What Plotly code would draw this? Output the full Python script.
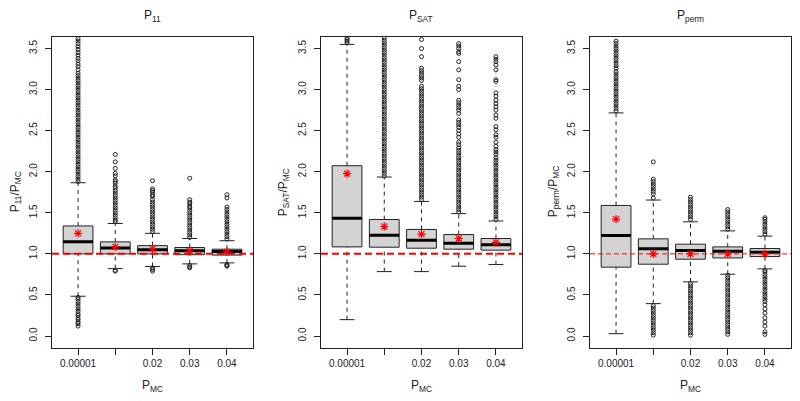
import plotly.graph_objects as go

# ---------------- data ----------------
groups = [1, 2, 3, 4, 5]
tick_labels = ["0.00001", "", "0.02", "0.03", "0.04"]
y_tick_vals = [0.0, 0.5, 1.0, 1.5, 2.0, 2.5, 3.0, 3.5]
y_tick_text = ["0.0", "0.5", "1.0", "1.5", "2.0", "2.5", "3.0", "3.5"]
panel_titles = ["P<sub>11</sub>", "P<sub>SAT</sub>", "P<sub>perm</sub>"]
y_titles = ["P<sub>11</sub>/P<sub>MC</sub>", "P<sub>SAT</sub>/P<sub>MC</sub>", "P<sub>perm</sub>/P<sub>MC</sub>"]
x_title = "P<sub>MC</sub>"
ref_value = 1.0

# P11
p11_lo = [0.484, 0.82, 0.845, 0.878, 0.89]
p11_q1 = [1.00, 1.00, 1.00, 0.99, 0.985]
p11_med = [1.146, 1.07, 1.05, 1.037, 1.028]
p11_q3 = [1.34, 1.146, 1.10, 1.077, 1.057]
p11_hi = [1.866, 1.37, 1.25, 1.187, 1.16]
p11_mean = [1.25, 1.085, 1.06, 1.035, 1.025]
p11_out = [
    [0.12, 0.15, 0.17, 0.20, 0.22, 0.25, 0.27, 0.30, 0.33, 0.36, 0.39, 0.42, 0.45, 0.47,
     1.88, 1.91, 1.94, 1.97, 2.00, 2.03, 2.06, 2.09, 2.12, 2.15, 2.18, 2.21, 2.24, 2.27,
     2.30, 2.33, 2.36, 2.39, 2.42, 2.45, 2.48, 2.51, 2.54, 2.57, 2.60, 2.63, 2.66, 2.69,
     2.72, 2.75, 2.78, 2.81, 2.84, 2.87, 2.90, 2.93, 2.96, 2.99, 3.02, 3.05, 3.08, 3.11,
     3.14, 3.17, 3.20, 3.24, 3.28, 3.31, 3.35, 3.38, 3.42, 3.45, 3.49, 3.52, 3.56, 3.59, 3.62],
    [0.80, 0.79,
     1.39, 1.41, 1.44, 1.47, 1.50, 1.53, 1.56, 1.59, 1.62, 1.65, 1.68, 1.71, 1.74, 1.77,
     1.80, 1.82, 1.86, 1.88, 1.90, 1.95, 1.98, 2.04, 2.12, 2.21],
    [0.83, 0.81, 0.79,
     1.27, 1.30, 1.33, 1.36, 1.39, 1.42, 1.45, 1.48, 1.51, 1.54, 1.57, 1.60, 1.63, 1.66,
     1.70, 1.72, 1.75, 1.77, 1.79, 1.89],
    [0.86, 0.84, 0.83,
     1.20, 1.23, 1.26, 1.29, 1.32, 1.35, 1.38, 1.41, 1.44, 1.47, 1.50, 1.53, 1.56, 1.58,
     1.61, 1.63, 1.66, 1.92],
    [0.87, 0.86, 0.85,
     1.18, 1.21, 1.24, 1.27, 1.30, 1.33, 1.36, 1.39, 1.42, 1.45, 1.48, 1.51, 1.54, 1.57,
     1.68, 1.72],
]

# PSAT
psat_lo = [0.199, 0.784, 0.784, 0.85, 0.87]
psat_q1 = [1.085, 1.081, 1.069, 1.057, 1.045]
psat_med = [1.435, 1.228, 1.167, 1.13, 1.11]
psat_q3 = [2.073, 1.418, 1.297, 1.235, 1.187]
psat_hi = [3.55, 1.935, 1.638, 1.49, 1.40]
psat_mean = [1.976, 1.333, 1.24, 1.187, 1.14]
psat_out = [
    [3.57, 3.59, 3.61, 3.63],
    [1.95, 1.98, 2.01, 2.04, 2.07, 2.10, 2.13, 2.16, 2.19, 2.22, 2.25, 2.28, 2.31, 2.34,
     2.37, 2.40, 2.43, 2.46, 2.49, 2.52, 2.55, 2.58, 2.61, 2.64, 2.67, 2.70, 2.73, 2.76,
     2.79, 2.82, 2.85, 2.88, 2.91, 2.94, 2.97, 3.00, 3.03, 3.06, 3.09, 3.12, 3.15, 3.18,
     3.21, 3.24, 3.27, 3.30, 3.33, 3.36, 3.39, 3.42, 3.45, 3.48, 3.51, 3.54, 3.57, 3.60, 3.63],
    [1.66, 1.69, 1.72, 1.75, 1.78, 1.81, 1.84, 1.87, 1.90, 1.93, 1.96, 1.99, 2.02, 2.05,
     2.08, 2.11, 2.14, 2.17, 2.20, 2.23, 2.26, 2.29, 2.32, 2.35, 2.38, 2.41, 2.44, 2.47,
     2.50, 2.53, 2.56, 2.59, 2.62, 2.65, 2.68, 2.71, 2.74, 2.77, 2.80, 2.83, 2.86, 2.89,
     2.92, 2.95, 2.98, 3.01, 3.04, 3.11, 3.14, 3.17, 3.20, 3.23, 3.26, 3.40, 3.50, 3.61],
    [1.51, 1.54, 1.57, 1.60, 1.63, 1.66, 1.69, 1.72, 1.75, 1.78, 1.81, 1.84, 1.87, 1.90,
     1.93, 1.96, 1.99, 2.02, 2.05, 2.08, 2.11, 2.14, 2.17, 2.20, 2.23, 2.26, 2.29, 2.33,
     2.36, 2.42, 2.46, 2.50, 2.54, 2.57, 2.60, 2.63, 2.71, 2.75, 2.78, 2.81, 2.84, 2.87,
     3.00, 3.04, 3.12, 3.24, 3.34, 3.44, 3.46, 3.50, 3.53, 3.56],
    [1.42, 1.45, 1.48, 1.51, 1.54, 1.57, 1.60, 1.63, 1.66, 1.69, 1.72, 1.75, 1.78, 1.81,
     1.84, 1.87, 1.90, 1.93, 1.96, 1.99, 2.02, 2.05, 2.08, 2.11, 2.14, 2.17, 2.21, 2.24,
     2.27, 2.31, 2.36, 2.42, 2.45, 2.51, 2.55, 2.65, 2.69, 2.75, 2.79, 2.83, 2.87, 2.92,
     2.96, 3.10, 3.12, 3.24, 3.30, 3.34, 3.37, 3.40],
]

# Pperm
pperm_lo = [0.028, 0.394, 0.659, 0.752, 0.817]
pperm_q1 = [0.838, 0.874, 0.935, 0.95, 0.967]
pperm_med = [1.223, 1.061, 1.04, 1.033, 1.02]
pperm_q3 = [1.589, 1.183, 1.118, 1.085, 1.065]
pperm_hi = [2.716, 1.655, 1.39, 1.28, 1.216]
pperm_mean = [1.423, 1.0, 1.0, 1.0, 1.0]
pperm_out = [
    [2.74, 2.77, 2.80, 2.83, 2.86, 2.89, 2.92, 2.95, 2.98, 3.01, 3.04, 3.07, 3.10, 3.13,
     3.16, 3.19, 3.22, 3.26, 3.29, 3.32, 3.35, 3.38, 3.41, 3.44, 3.47, 3.50, 3.53, 3.56, 3.59],
    [0.01, 0.04, 0.07, 0.10, 0.13, 0.16, 0.19, 0.22, 0.25, 0.28, 0.31, 0.34, 0.37,
     1.68, 1.73, 1.76, 1.79, 1.82, 1.85, 1.88, 1.91, 2.12],
    [0.01, 0.04, 0.07, 0.10, 0.13, 0.16, 0.19, 0.22, 0.25, 0.28, 0.31, 0.34, 0.37, 0.40,
     0.43, 0.46, 0.49, 0.52, 0.55, 0.58, 0.61, 0.64,
     1.42, 1.45, 1.48, 1.51, 1.54, 1.57, 1.60, 1.63, 1.66, 1.69],
    [0.02, 0.05, 0.08, 0.11, 0.14, 0.17, 0.20, 0.23, 0.26, 0.29, 0.32, 0.35, 0.38, 0.41,
     0.44, 0.47, 0.50, 0.53, 0.56, 0.59, 0.62, 0.65, 0.68, 0.71, 0.74,
     1.30, 1.33, 1.36, 1.39, 1.42, 1.45, 1.48, 1.51, 1.54],
    [0.02, 0.05, 0.12, 0.17, 0.22, 0.28, 0.33, 0.38, 0.42, 0.45, 0.48, 0.51, 0.54, 0.57,
     0.60, 0.63, 0.66, 0.69, 0.72, 0.75, 0.78, 0.80,
     1.24, 1.27, 1.30, 1.33, 1.36, 1.39, 1.42, 1.44],
]

# ---------------- styling ----------------
FONT = "Liberation Sans, Arial, Helvetica, sans-serif"
INK = "#222222"
BOX_FILL = "#D3D3D3"
BOX_HALF = 0.4
CAP_HALF = 0.2
OFF = 8  # page body margin of the html page
W, H = 800 - OFF, 401 - OFF


def px_x(px):
    return (px - OFF) / W


def px_y(py):
    return 1 - (py - OFF) / H


x_domains = [(px_x(52), px_x(253)), (px_x(321), px_x(522)), (px_x(590), px_x(791))]
y_domain = (px_y(347.5), px_y(37))
ref_styles = [dict(width=2, dash="7px,4px"), dict(width=2, dash="7px,4px"), dict(width=1, dash="5px,3px")]
ytitle_px = [16, 284, 554]

fig = go.Figure()


def add_panel(k, lo, q1, med, q3, hi, mean, outs):
    xa = "x" if k == 1 else f"x{k}"
    ya = "y" if k == 1 else f"y{k}"
    common = dict(xaxis=xa, yaxis=ya, showlegend=False, hoverinfo="skip")
    # whiskers (dashed)
    wx, wy = [], []
    for g, a, b, c, d in zip(groups, lo, q1, q3, hi):
        wx += [g, g, None, g, g, None]
        wy += [a, b, None, c, d, None]
    fig.add_trace(go.Scatter(x=wx, y=wy, mode="lines",
                             line=dict(color=INK, width=1, dash="4px,4px"), **common))
    # caps
    cx, cy = [], []
    for g, a, d in zip(groups, lo, hi):
        cx += [g - CAP_HALF, g + CAP_HALF, None, g - CAP_HALF, g + CAP_HALF, None]
        cy += [a, a, None, d, d, None]
    fig.add_trace(go.Scatter(x=cx, y=cy, mode="lines", line=dict(color=INK, width=1), **common))
    # boxes
    bx, by = [], []
    for g, b, c in zip(groups, q1, q3):
        bx += [g - BOX_HALF, g + BOX_HALF, g + BOX_HALF, g - BOX_HALF, g - BOX_HALF, None]
        by += [b, b, c, c, b, None]
    fig.add_trace(go.Scatter(x=bx, y=by, mode="lines", fill="toself", fillcolor=BOX_FILL,
                             line=dict(color=INK, width=1), **common))
    # medians
    mx, my = [], []
    for g, m in zip(groups, med):
        mx += [g - BOX_HALF, g + BOX_HALF, None]
        my += [m, m, None]
    fig.add_trace(go.Scatter(x=mx, y=my, mode="lines", line=dict(color="#000000", width=3), **common))
    # outliers
    ox, oy = [], []
    for g, vals in zip(groups, outs):
        ox += [g] * len(vals)
        oy += vals
    fig.add_trace(go.Scatter(x=ox, y=oy, mode="markers",
                             marker=dict(symbol="circle-open", size=4, color=INK, line=dict(width=1)),
                             **common))
    # means
    fig.add_trace(go.Scatter(x=groups, y=mean, mode="markers",
                             marker=dict(symbol="asterisk-open", size=7, color="#FF0000",
                                         line=dict(width=1.2, color="#FF0000")), **common))
    # reference line
    fig.add_shape(type="line", xref=f"{xa} domain", yref=ya, x0=0, x1=1, y0=ref_value, y1=ref_value,
                  line=dict(color="#FF0000", **ref_styles[k - 1]), layer="above")


add_panel(1, p11_lo, p11_q1, p11_med, p11_q3, p11_hi, p11_mean, p11_out)
add_panel(2, psat_lo, psat_q1, psat_med, psat_q3, psat_hi, psat_mean, psat_out)
add_panel(3, pperm_lo, pperm_q1, pperm_med, pperm_q3, pperm_hi, pperm_mean, pperm_out)

layout = dict(width=W, height=H, margin=dict(l=0, r=0, t=0, b=0),
              paper_bgcolor="white", plot_bgcolor="white",
              font=dict(family=FONT, color=INK, size=10))
annotations = []
for k in range(1, 4):
    sx = "" if k == 1 else str(k)
    d0, d1 = x_domains[k - 1]
    layout[f"xaxis{sx}"] = dict(domain=[d0, d1], anchor=f"y{sx}", range=[0.3, 5.7],
                                tickmode="array", tickvals=groups, ticktext=tick_labels,
                                ticks="outside", ticklen=6, tickcolor=INK, tickwidth=1,
                                showline=True, mirror=True, linecolor=INK, linewidth=1,
                                showgrid=False, zeroline=False,
                                tickfont=dict(size=10, family=FONT, color=INK))
    layout[f"yaxis{sx}"] = dict(domain=list(y_domain), anchor=f"x{sx}", range=[-0.14, 3.64],
                                tickmode="array", tickvals=y_tick_vals, ticktext=y_tick_text,
                                tickangle=-90, ticks="outside", ticklen=6, tickcolor=INK, tickwidth=1,
                                showline=True, mirror=True, linecolor=INK, linewidth=1,
                                showgrid=False, zeroline=False, ticklabelstandoff=4,
                                tickfont=dict(size=10, family=FONT, color=INK))
    cx = (d0 + d1) / 2
    annotations.append(dict(text=panel_titles[k - 1], x=cx, y=px_y(16), xref="paper", yref="paper",
                            showarrow=False, font=dict(size=12, family=FONT, color=INK),
                            xanchor="center", yanchor="middle"))
    annotations.append(dict(text=x_title, x=cx, y=px_y(386), xref="paper", yref="paper",
                            showarrow=False, font=dict(size=12, family=FONT, color=INK),
                            xanchor="center", yanchor="middle"))
    annotations.append(dict(text=y_titles[k - 1], x=px_x(ytitle_px[k - 1]), y=(y_domain[0] + y_domain[1]) / 2,
                            xref="paper", yref="paper", textangle=-90, showarrow=False,
                            font=dict(size=12, family=FONT, color=INK),
                            xanchor="center", yanchor="middle"))
layout["annotations"] = annotations
fig.update_layout(**layout)
fig.write_html("out.html")
